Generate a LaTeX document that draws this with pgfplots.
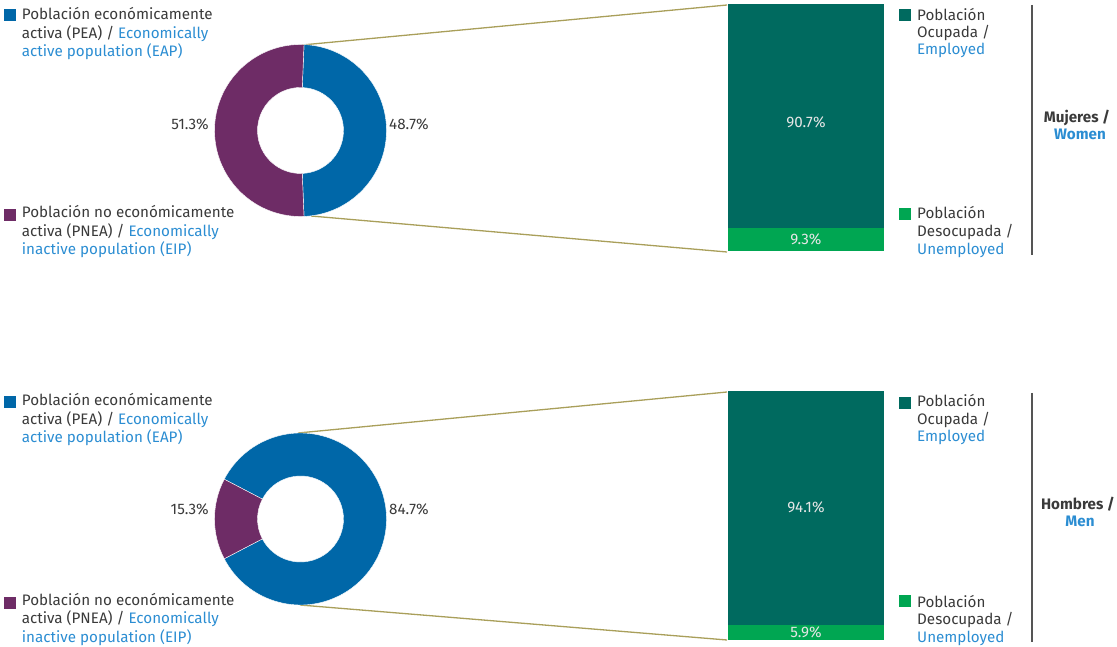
\documentclass[border=0pt]{standalone}
\usepackage{pgfplots}
\usepackage{pgfplotstable}
\pgfplotsset{compat=1.18}
\usepackage{fontspec}
\setmainfont{Fira Sans}
\definecolor{cblue}{HTML}{0067A8}
\definecolor{cpurple}{HTML}{6E2C66}
\definecolor{cdgreen}{HTML}{006A5F}
\definecolor{cbgreen}{HTML}{00A652}
\definecolor{cline}{HTML}{A99F5A}
\definecolor{ctxt}{HTML}{3A3A3A}
\definecolor{ceng}{HTML}{2B8DD2}
\definecolor{cvline}{HTML}{555555}
\definecolor{cbarlbl}{HTML}{E6E6E6}

\pgfplotstableread{
group eap pnea occ des
Mujeres 48.7 51.3 90.7 9.3
Hombres 84.7 15.3 94.1 5.9
}\datatab

\newcommand{\donutslice}[5]{%
  \fill[#5, draw=white, line width=0.4pt] ([shift={(#3:86pt)}]axis cs:#1,#2) arc[start angle=#3, end angle=#4, radius=86pt]
    -- ([shift={(#4:43pt)}]axis cs:#1,#2) arc[start angle=#4, end angle=#3, radius=43pt] -- cycle;}

\newcommand{\lsq}[3]{\fill[#3] (axis cs:#1,#2) rectangle (axis cs:#1+12,#2-12);}

\begin{document}
\fontsize{15.2}{18}\selectfont
\begin{tikzpicture}
\pgfplotstablegetelem{0}{eap}\of\datatab \pgfmathsetmacro{\aW}{\pgfplotsretval*1.8}
\pgfplotstablegetelem{1}{eap}\of\datatab \pgfmathsetmacro{\aM}{\pgfplotsretval*1.8}
\pgfmathsetmacro{\bW}{360-\aW}
\pgfmathsetmacro{\bM}{360-\aM}
\useasboundingbox (0,0) rectangle (1117pt,646pt);

% top bar (Mujeres)
\begin{axis}[at={(728pt,395pt)}, anchor=south west, width=156pt, height=247pt, scale only axis,
  xmin=-0.5, xmax=0.5, ymin=0, ymax=100, ybar stacked, bar width=156pt, hide axis, clip=false]
\addplot[fill=cbgreen, draw=none] coordinates {(0,9.3)};
\addplot[fill=cdgreen, draw=none] coordinates {(0,90.7)};
\end{axis}

% bottom bar (Hombres)
\begin{axis}[at={(728pt,6pt)}, anchor=south west, width=156pt, height=249pt, scale only axis,
  xmin=-0.5, xmax=0.5, ymin=0, ymax=100, ybar stacked, bar width=156pt, hide axis, clip=false]
\addplot[fill=cbgreen, draw=none] coordinates {(0,5.9)};
\addplot[fill=cdgreen, draw=none] coordinates {(0,94.1)};
\end{axis}

\begin{axis}[at={(0pt,0pt)}, anchor=south west, width=1117pt, height=646pt, scale only axis,
  xmin=0, xmax=1117, ymin=0, ymax=646, hide axis, clip=false]
% connecting lines
\addplot[cline, line width=1.3pt] coordinates {(302,601) (727,641)};
\addplot[cline, line width=1.3pt] coordinates {(311,430) (727,394)};
\addplot[cline, line width=1.3pt] coordinates {(298,213) (727,254)};
\addplot[cline, line width=1.3pt] coordinates {(300,41) (727,6)};
% vertical separators
\addplot[cvline, line width=1.5pt] coordinates {(1032,641) (1032,391)};
\addplot[cvline, line width=1.5pt] coordinates {(1032,253) (1032,4)};
% donuts
\donutslice{300.5}{515.5}{-\aW}{\aW}{cblue}
\donutslice{300.5}{515.5}{\aW}{\bW}{cpurple}
\donutslice{300.5}{127}{-\aM}{\aM}{cblue}
\donutslice{300.5}{127}{\aM}{\bM}{cpurple}
% donut labels
\node[anchor=base east, inner sep=0, text=ctxt] at (axis cs:209,516) {51.3\%};
\node[anchor=base west, inner sep=0, text=ctxt] at (axis cs:389,516) {48.7\%};
\node[anchor=base east, inner sep=0, text=ctxt] at (axis cs:209,131) {15.3\%};
\node[anchor=base west, inner sep=0, text=ctxt] at (axis cs:389,131) {84.7\%};
% bar labels
\node[anchor=base, inner sep=0, text=cbarlbl] at (axis cs:806,518) {90.7\%};
\node[anchor=base, inner sep=0, text=cbarlbl] at (axis cs:806,401) {9.3\%};
\node[anchor=base, inner sep=0, text=cbarlbl] at (axis cs:806,133) {94.1\%};
\node[anchor=base, inner sep=0, text=cbarlbl] at (axis cs:806,8.5) {5.9\%};
% left legends top
\lsq{4}{637}{cblue}
\node[anchor=base west, inner sep=0, text=ctxt] at (axis cs:21.7,626) {Población económicamente};
\node[anchor=base west, inner sep=0, text=ctxt] at (axis cs:21.7,607.5) {activa (PEA) / \textcolor{ceng}{Economically}};
\node[anchor=base west, inner sep=0, text=ceng] at (axis cs:21.7,589) {active population (EAP)};
\lsq{4}{437}{cpurple}
\node[anchor=base west, inner sep=0, text=ctxt] at (axis cs:21.7,428) {Población no económicamente};
\node[anchor=base west, inner sep=0, text=ctxt] at (axis cs:21.7,409.5) {activa (PNEA) / \textcolor{ceng}{Economically}};
\node[anchor=base west, inner sep=0, text=ceng] at (axis cs:21.7,391) {inactive population (EIP)};
% left legends bottom
\lsq{4}{250}{cblue}
\node[anchor=base west, inner sep=0, text=ctxt] at (axis cs:21.7,240) {Población económicamente};
\node[anchor=base west, inner sep=0, text=ctxt] at (axis cs:21.7,221.5) {activa (PEA) / \textcolor{ceng}{Economically}};
\node[anchor=base west, inner sep=0, text=ceng] at (axis cs:21.7,203) {active population (EAP)};
\lsq{4}{49}{cpurple}
\node[anchor=base west, inner sep=0, text=ctxt] at (axis cs:21.7,41) {Población no económicamente};
\node[anchor=base west, inner sep=0, text=ctxt] at (axis cs:21.7,22.5) {activa (PNEA) / \textcolor{ceng}{Economically}};
\node[anchor=base west, inner sep=0, text=ceng] at (axis cs:21.7,4) {inactive population (EIP)};
% right legends top
\lsq{899}{637}{cdgreen}
\node[anchor=base west, inner sep=0, text=ctxt] at (axis cs:917,625.5) {Población};
\node[anchor=base west, inner sep=0, text=ctxt] at (axis cs:917,608.5) {Ocupada /};
\node[anchor=base west, inner sep=0, text=ceng] at (axis cs:917,591) {Employed};
\lsq{899}{438}{cbgreen}
\node[anchor=base west, inner sep=0, text=ctxt] at (axis cs:917,427.5) {Población};
\node[anchor=base west, inner sep=0, text=ctxt] at (axis cs:917,409) {Desocupada /};
\node[anchor=base west, inner sep=0, text=ceng] at (axis cs:917,391) {Unemployed};
% right legends bottom
\lsq{899}{249}{cdgreen}
\node[anchor=base west, inner sep=0, text=ctxt] at (axis cs:917,239) {Población};
\node[anchor=base west, inner sep=0, text=ctxt] at (axis cs:917,221) {Ocupada /};
\node[anchor=base west, inner sep=0, text=ceng] at (axis cs:917,204) {Employed};
\lsq{899}{51}{cbgreen}
\node[anchor=base west, inner sep=0, text=ctxt] at (axis cs:917,39) {Población};
\node[anchor=base west, inner sep=0, text=ctxt] at (axis cs:917,22) {Desocupada /};
\node[anchor=base west, inner sep=0, text=ceng] at (axis cs:917,4) {Unemployed};
% group labels
\node[anchor=base, inner sep=0, text=ctxt, font=\bfseries] at (axis cs:1077,523) {Mujeres /};
\node[anchor=base, inner sep=0, text=ceng, font=\bfseries] at (axis cs:1080,506) {Women};
\node[anchor=base, inner sep=0, text=ctxt, font=\bfseries] at (axis cs:1078,136) {Hombres /};
\node[anchor=base, inner sep=0, text=ceng, font=\bfseries] at (axis cs:1080,119) {Men};
\end{axis}
\end{tikzpicture}
\end{document}
